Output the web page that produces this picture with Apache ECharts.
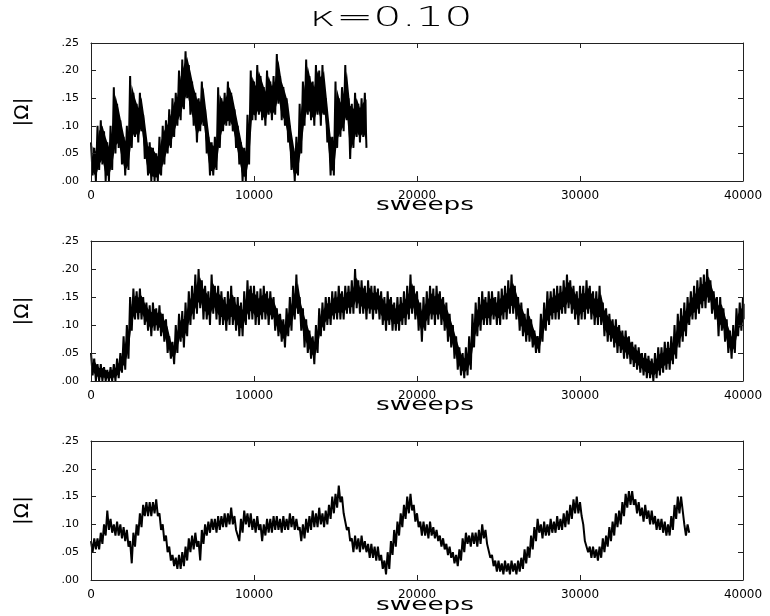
<!DOCTYPE html>
<html>
<head>
<meta charset="utf-8">
<script src="https://cdn.jsdelivr.net/npm/echarts@6/dist/echarts.min.js"></script>
<style>html,body{margin:0;padding:0;background:#fff}#c{width:770px;height:616px}</style>
</head>
<body>
<div id="c"></div>
<script>
// sampling step (sweeps); each sample gives the upper and lower edge of the noisy trace
const step = 200;

// panel 1 (0 .. 16800 sweeps)
const hi1 = [
.07,.06,.10,.11,.09,.07,.10,.17,.14,.11,
.08,.10,.19,.16,.14,.16,.12,.07,.07,.06,
.05,.08,.10,.11,.13,.15,.16,.20,.22,.235,
.21,.18,.16,.15,.18,.13,.08,.07,.08,.17,
.15,.16,.18,.16,.13,.10,.07,.06,.12,.20,
.18,.21,.19,.17,.20,.18,.19,.23,.19,.17,
.15,.10,.06,.08,.14,.18,.22,.19,.18,.21,
.20,.21,.15,.09,.08,.18,.15,.17,.21,.15,
.14,.16,.14,.15,.16
];
const lo1 = [
.01,.00,.02,.03,.00,.00,.02,.05,.06,.03,
.01,.02,.06,.08,.07,.09,.04,.01,.00,.00,
.00,.01,.03,.05,.06,.08,.10,.11,.13,.15,
.12,.10,.07,.09,.10,.05,.01,.01,.02,.06,
.09,.10,.10,.09,.06,.03,.00,.00,.03,.11,
.11,.12,.11,.10,.12,.11,.12,.14,.11,.10,
.07,.02,.00,.01,.05,.10,.12,.11,.10,.12,
.10,.12,.07,.01,.01,.06,.08,.09,.11,.04,
.06,.08,.07,.08,.06
];

// panel 2 (0 .. 40000 sweeps)
const hi2 = [
.05,.04,.03,.03,.025,.02,.025,.03,.04,.05,
.08,.10,.15,.165,.16,.165,.15,.14,.135,.14,
.13,.135,.12,.11,.08,.07,.10,.12,.125,.14,
.16,.17,.19,.20,.18,.17,.16,.19,.17,.17,
.16,.15,.16,.17,.15,.15,.14,.16,.18,.17,
.17,.16,.165,.17,.16,.16,.15,.13,.12,.11,
.13,.15,.17,.19,.15,.13,.11,.09,.08,.10,
.13,.14,.15,.15,.16,.16,.17,.16,.17,.17,
.18,.20,.18,.18,.17,.18,.17,.17,.165,.16,
.15,.16,.15,.14,.15,.15,.16,.17,.19,.17,
.16,.14,.15,.16,.17,.165,.17,.16,.15,.14,
.12,.10,.08,.06,.05,.06,.08,.12,.14,.15,
.16,.15,.16,.16,.15,.16,.165,.17,.18,.19,
.17,.15,.14,.12,.13,.11,.09,.08,.12,.14,
.16,.16,.165,.17,.17,.18,.19,.18,.17,.16,
.17,.17,.18,.17,.16,.16,.17,.14,.13,.12,
.11,.11,.10,.09,.09,.08,.07,.065,.06,.05,
.05,.045,.04,.05,.06,.06,.07,.07,.08,.10,
.12,.13,.14,.15,.16,.17,.18,.185,.19,.20,
.18,.16,.15,.15,.13,.11,.09,.10,.13,.14,
.15
];
const lo2 = [
.01,.00,.00,.00,.00,.00,.00,.00,.005,.015,
.02,.04,.09,.11,.11,.11,.10,.09,.08,.09,
.09,.08,.07,.05,.04,.03,.05,.07,.06,.08,
.10,.11,.12,.13,.11,.11,.10,.12,.11,.10,
.10,.09,.10,.10,.09,.08,.08,.10,.11,.11,
.10,.10,.11,.11,.10,.11,.09,.08,.07,.06,
.08,.09,.11,.12,.09,.06,.05,.04,.03,.05,
.08,.09,.10,.10,.11,.11,.11,.11,.12,.12,
.12,.13,.12,.12,.11,.12,.11,.12,.11,.10,
.09,.10,.09,.09,.09,.10,.10,.11,.12,.11,
.09,.07,.09,.10,.11,.10,.11,.10,.09,.07,
.06,.04,.02,.01,.005,.01,.02,.06,.08,.09,
.10,.10,.10,.11,.10,.10,.11,.11,.12,.12,
.11,.09,.08,.07,.07,.06,.05,.05,.07,.09,
.10,.11,.11,.11,.12,.12,.13,.12,.11,.10,
.11,.11,.12,.11,.10,.10,.10,.08,.07,.07,
.06,.05,.05,.04,.04,.03,.025,.02,.015,.01,
.005,.005,.00,.005,.01,.015,.02,.02,.03,.04,
.06,.07,.08,.10,.11,.11,.12,.13,.13,.14,
.12,.11,.08,.09,.07,.05,.04,.05,.08,.09,
.10
];

// panel 3 (0 .. 36600 sweeps)
const hi3 = [
.07,.075,.075,.085,.10,.125,.11,.10,.105,.10,
.095,.09,.07,.085,.10,.12,.135,.14,.14,.14,
.145,.12,.10,.08,.06,.045,.04,.045,.05,.06,
.075,.08,.085,.07,.09,.10,.105,.11,.11,.115,
.115,.12,.12,.13,.115,.09,.11,.125,.12,.12,
.11,.115,.10,.10,.11,.11,.115,.115,.11,.115,
.11,.12,.115,.11,.095,.10,.11,.115,.125,.12,
.13,.12,.125,.135,.15,.155,.17,.15,.12,.095,
.075,.08,.075,.08,.07,.065,.065,.06,.06,.045,
.035,.05,.07,.09,.105,.12,.135,.15,.155,.135,
.12,.105,.105,.10,.105,.095,.09,.08,.075,.065,
.06,.05,.045,.055,.075,.085,.08,.085,.085,.09,
.10,.09,.065,.045,.035,.035,.03,.035,.03,.035,
.03,.035,.04,.055,.06,.08,.095,.11,.10,.105,
.10,.11,.105,.115,.11,.12,.125,.135,.145,.15,
.14,.10,.07,.06,.06,.055,.06,.075,.08,.095,
.105,.12,.125,.14,.155,.16,.16,.145,.14,.13,
.135,.125,.125,.115,.11,.11,.105,.10,.115,.135,
.15,.15,.10,.10
];
const lo3 = [
.05,.055,.055,.065,.08,.09,.085,.08,.08,.075,
.07,.06,.03,.06,.08,.095,.115,.115,.115,.12,
.115,.09,.07,.05,.035,.025,.02,.02,.025,.035,
.05,.055,.06,.035,.065,.08,.085,.09,.085,.09,
.095,.095,.10,.10,.09,.07,.085,.10,.095,.09,
.085,.09,.07,.08,.085,.085,.09,.09,.085,.09,
.09,.095,.09,.09,.07,.075,.085,.09,.095,.095,
.10,.095,.10,.11,.12,.13,.14,.12,.09,.07,
.05,.055,.05,.055,.05,.04,.04,.035,.035,.02,
.01,.02,.045,.06,.08,.095,.11,.12,.125,.105,
.095,.08,.08,.075,.08,.075,.07,.06,.055,.045,
.04,.03,.025,.035,.05,.065,.06,.065,.06,.065,
.075,.065,.04,.025,.015,.015,.01,.015,.01,.015,
.01,.015,.02,.03,.04,.055,.07,.085,.075,.08,
.08,.085,.085,.09,.09,.095,.10,.11,.12,.12,
.115,.07,.05,.04,.04,.035,.04,.05,.06,.07,
.08,.095,.10,.115,.13,.135,.135,.12,.115,.105,
.11,.10,.10,.09,.09,.085,.08,.08,.09,.11,
.12,.125,.08,.085
];

// axis ranges and ticks
const xMin = 0, xMax = 40000, xStep = 10000;
const yMin = 0, yMax = 0.25, yStep = 0.05;

const titleText = 'κ=0.10';
const xName = 'sweeps';
const yName = '|Ω|';

const chart = echarts.init(document.getElementById('c'), null, {renderer: 'canvas'});

const grids = [
  {left: 91, right: 27, top: 43, height: 138},
  {left: 91, right: 27, top: 241, height: 140},
  {left: 91, right: 27, top: 441, height: 139}
];
const traces = [[hi1, lo1], [hi2, lo2], [hi3, lo3]];
// how far the solid core of each band is pulled in from its edges (fraction of the spread)
const coreInset = [0.12, 0.22, null];

// trace drawn as a fine zig-zag between the upper and lower edge of each sample
function zigzag(hi, lo) {
  const pts = [];
  hi.forEach((h, k) => {
    pts.push([k * step, h]);
    pts.push([k * step + step / 2, lo[k]]);
  });
  return pts;
}

const axisColor = '#222';
const xAxes = [], yAxes = [], series = [];
grids.forEach((g, i) => {
  const tick = {show: true, inside: true, length: 5, lineStyle: {color: axisColor}};
  const line = {show: true, onZero: false, lineStyle: {color: axisColor, width: 1}};
  xAxes.push({
    gridIndex: i, type: 'value', min: xMin, max: xMax, interval: xStep, position: 'bottom', z: 10,
    axisLine: line, axisTick: tick,
    axisLabel: {show: true, margin: 9, color: '#000', fontFamily: 'DejaVu Sans', fontSize: 12,
      formatter: v => String(v)},
    splitLine: {show: false}
  });
  xAxes.push({
    gridIndex: i, type: 'value', min: xMin, max: xMax, interval: xStep, position: 'top', z: 10,
    axisLine: line, axisTick: tick, axisLabel: {show: false}, splitLine: {show: false}
  });
  yAxes.push({
    gridIndex: i, type: 'value', min: yMin, max: yMax, interval: yStep, position: 'left', z: 10,
    name: yName, nameLocation: 'middle', nameGap: 58, nameRotate: 90,
    nameTextStyle: {fontFamily: 'DejaVu Sans', fontSize: 20, color: '#000'},
    axisLine: line, axisTick: tick,
    axisLabel: {show: true, margin: 12, color: '#000', fontFamily: 'DejaVu Sans', fontSize: 11,
      formatter: v => v.toFixed(2).replace(/^0/, '')},
    splitLine: {show: false}
  });
  yAxes.push({
    gridIndex: i, type: 'value', min: yMin, max: yMax, interval: yStep, position: 'right', z: 10,
    axisLine: line, axisTick: tick, axisLabel: {show: false}, splitLine: {show: false}
  });
  const [hi, lo] = traces[i];
  const f = coreInset[i];
  if (f !== null) {
    // solid core of the noisy band: one polygon between the inner upper and lower edges
    const core = hi.map((v, k) => [k * step + step / 2, v - f * (v - lo[k]), lo[k] + f * (v - lo[k])]);
    series.push({
      type: 'custom', xAxisIndex: 2 * i, yAxisIndex: 2 * i, z: 1, silent: true,
      data: core,
      encode: {x: 0, y: [1, 2]},
      renderItem: (params, api) => {
        if (params.dataIndex !== 0) return null;
        const top = core.map(p => api.coord([p[0], p[1]]));
        const bot = core.map(p => api.coord([p[0], p[2]])).reverse();
        return {
          type: 'polygon',
          shape: {points: top.concat(bot)},
          style: {fill: '#000', stroke: null}
        };
      }
    });
  }
  series.push({
    type: 'line', xAxisIndex: 2 * i, yAxisIndex: 2 * i, z: 3,
    data: zigzag(hi, lo),
    showSymbol: false, symbol: 'none', smooth: false, clip: true, sampling: null,
    lineStyle: {color: '#000', width: 2}
  });
});

const nameY = [206, 406, 606];
const graphic = [{
  type: 'text', x: 391, y: 19, scaleX: 1.65,
  style: {text: titleText, fontFamily: 'DejaVu Sans', fontWeight: 200, fontSize: 27,
    fill: '#000', textAlign: 'center', textVerticalAlign: 'middle'}
}];
nameY.forEach(y => graphic.push({
  type: 'text', x: 425, y: y, scaleX: 1.55,
  style: {text: xName, fontFamily: 'DejaVu Sans', fontSize: 17, fill: '#000',
    textAlign: 'center', textVerticalAlign: 'middle'}
}));

chart.setOption({
  animation: false,
  backgroundColor: '#fff',
  grid: grids,
  xAxis: xAxes,
  yAxis: yAxes,
  series: series,
  graphic: graphic
});
</script>
</body>
</html>
